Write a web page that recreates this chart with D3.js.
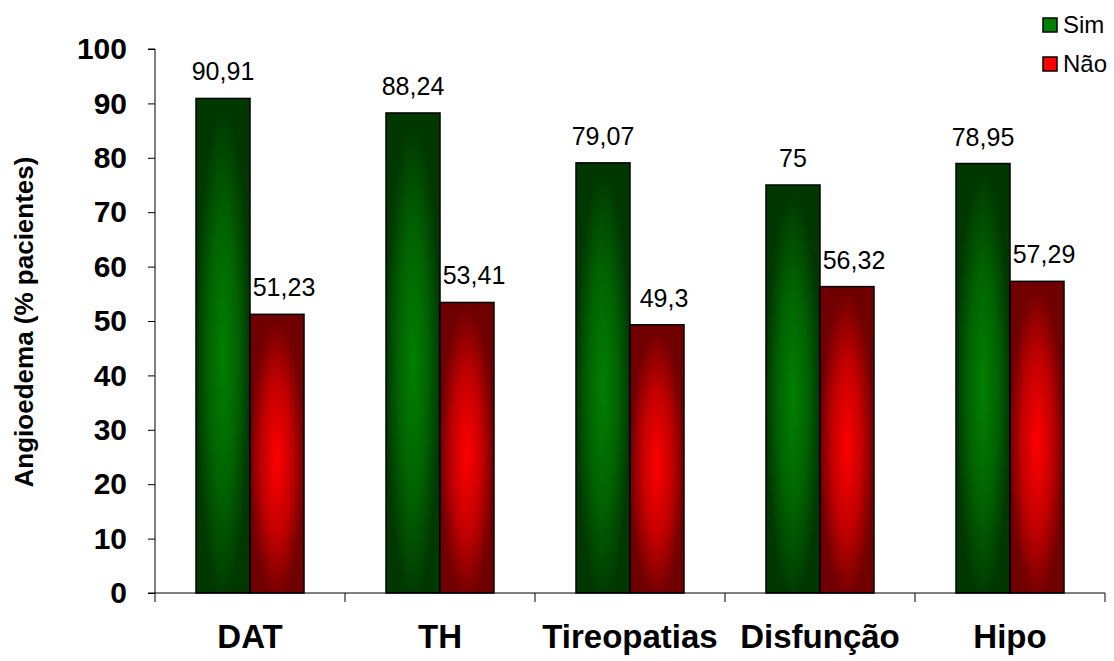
<!DOCTYPE html>
<html>
<head>
<meta charset="utf-8">
<script src="https://cdn.jsdelivr.net/npm/d3@7"></script>
<style>
  body { margin: 0; background: #fff; }
  svg { display: block; font-family: Arial, "Liberation Sans", sans-serif; }
</style>
</head>
<body>
<svg id="chart" width="1114" height="661"></svg>
<script>
// Angioedema share of patients by group
const categories = ["DAT", "TH", "Tireopatias", "Disfunção", "Hipo"];
const seriesNames = ["Sim", "Não"];
const simValues = [90.91, 88.24, 79.07, 75, 78.95];
const naoValues = [51.23, 53.41, 49.3, 56.32, 57.29];
const valueLabels = [
  ["90,91", "88,24", "79,07", "75", "78,95"],
  ["51,23", "53,41", "49,3", "56,32", "57,29"]
];
const yTicks = [0, 10, 20, 30, 40, 50, 60, 70, 80, 90, 100];
const yTitle = "Angioedema (% pacientes)";

const svg = d3.select("#chart");
const plotLeft = 155, plotRight = 1105, plotTop = 49, plotBottom = 593;

const x = d3.scaleBand().domain(categories).range([plotLeft, plotRight]).padding(0);
const x1 = d3.scaleBand().domain(seriesNames).range([0, 108]);
const y = d3.scaleLinear().domain([0, 100]).range([plotBottom, plotTop]);

// Gradients: bright core fading to dark edges
const defs = svg.append("defs");
const palettes = {
  Sim: { core: "#008000", mid: "#006200", edge: "#003800" },
  "Não": { core: "#ff0000", mid: "#c20000", edge: "#700000" }
};
seriesNames.forEach((s, i) => {
  const p = palettes[s];
  const rg = defs.append("radialGradient")
    .attr("id", "grad" + i)
    .attr("cx", 0.5).attr("cy", 0.52).attr("r", 0.5)
    .attr("fx", 0.5).attr("fy", 0.52);
  rg.append("stop").attr("offset", "0%").attr("stop-color", p.core);
  rg.append("stop").attr("offset", "55%").attr("stop-color", p.mid);
  rg.append("stop").attr("offset", "100%").attr("stop-color", p.edge);
});

const data = categories.map((c, i) => ({
  cat: c,
  vals: [
    { s: "Sim", v: simValues[i], label: valueLabels[0][i], idx: 0 },
    { s: "Não", v: naoValues[i], label: valueLabels[1][i], idx: 1 }
  ]
}));

const groups = svg.append("g").selectAll("g").data(data).join("g")
  .attr("transform", d => `translate(${x(d.cat) + (x.bandwidth() - 108) / 2},0)`);

groups.selectAll("rect").data(d => d.vals).join("rect")
  .attr("x", d => x1(d.s))
  .attr("y", d => y(d.v))
  .attr("width", x1.bandwidth())
  .attr("height", d => y(0) - y(d.v))
  .attr("fill", d => `url(#grad${d.idx})`)
  .attr("stroke", "#000")
  .attr("stroke-width", 1.5);

// Value labels; the second series' labels sit slightly right of the bar centre
groups.selectAll("text").data(d => d.vals).join("text")
  .attr("x", d => x1(d.s) + x1.bandwidth() / 2 + (d.idx === 1 ? 7 : 0))
  .attr("y", d => y(d.v) - 18)
  .attr("text-anchor", "middle")
  .attr("font-size", 25)
  .attr("fill", "#000")
  .text(d => d.label);

// Y axis
const yAxis = svg.append("g")
  .attr("transform", `translate(${plotLeft},0)`)
  .call(d3.axisLeft(y).tickValues(yTicks).tickSize(7).tickPadding(21).tickFormat(d3.format("d")));
yAxis.select(".domain").attr("stroke", "#000").attr("d", `M-7,${plotTop}H0V${plotBottom}H-7`);
yAxis.selectAll(".tick line").attr("stroke", "#000");
yAxis.selectAll(".tick text")
  .attr("font-size", 30).attr("font-weight", "bold")
  .attr("font-family", "Arial, 'Liberation Sans', sans-serif")
  .attr("fill", "#000");

// X axis: ticks at category boundaries
const xAxisG = svg.append("g").attr("transform", `translate(0,${plotBottom})`);
xAxisG.append("line").attr("x1", plotLeft).attr("x2", plotRight).attr("y1", 0).attr("y2", 0)
  .attr("stroke", "#000").attr("stroke-width", 1);
const boundaries = categories.map(c => x(c)).concat([x(categories[categories.length - 1]) + x.bandwidth()]);
xAxisG.selectAll("line.tk").data(boundaries).join("line")
  .attr("class", "tk")
  .attr("x1", d => d).attr("x2", d => d)
  .attr("y1", 0).attr("y2", 9)
  .attr("stroke", "#000");
xAxisG.selectAll("text").data(categories).join("text")
  .attr("x", d => x(d) + x.bandwidth() / 2)
  .attr("y", 55)
  .attr("text-anchor", "middle")
  .attr("font-size", 33).attr("font-weight", "bold")
  .attr("fill", "#000")
  .text(d => d);

// Y title
svg.append("text")
  .attr("transform", "translate(33,322) rotate(-90)")
  .attr("text-anchor", "middle")
  .attr("font-size", 26).attr("font-weight", "bold")
  .attr("fill", "#000")
  .text(yTitle);

// Legend
const legend = svg.append("g").attr("transform", "translate(1043,18)");
const li = legend.selectAll("g").data(seriesNames).join("g")
  .attr("transform", (d, i) => `translate(0,${i * 39})`);
li.append("rect")
  .attr("width", 14).attr("height", 14)
  .attr("fill", (d, i) => i === 0 ? "#008000" : "#ff0000")
  .attr("stroke", "#000").attr("stroke-width", 1.5);
li.append("text")
  .attr("x", 20).attr("y", 15)
  .attr("font-size", 24)
  .attr("fill", "#000")
  .text(d => d);
</script>
</body>
</html>
